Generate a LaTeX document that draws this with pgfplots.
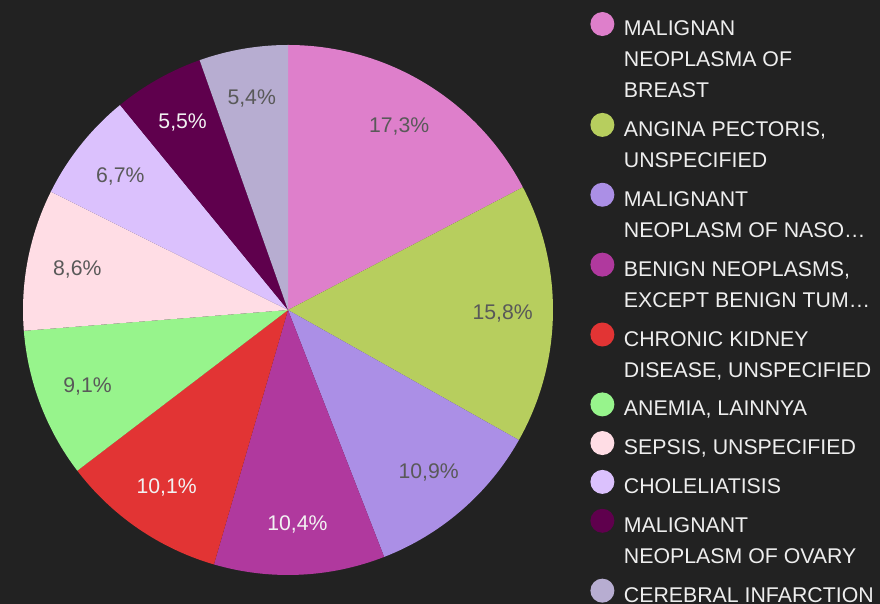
\documentclass[border=0pt]{standalone}
\usepackage{pgfplots}
\pgfplotsset{compat=1.18}
\usepackage{pgfplotstable}
\usepackage{fontspec}
\setmainfont{Liberation Sans}

\definecolor{bg}{HTML}{222222}
\definecolor{legtext}{HTML}{EEEEEE}
\definecolor{lbldark}{HTML}{595959}
\definecolor{lbllight}{HTML}{F2F2F2}
\definecolor{c1}{HTML}{DE7FCB}
\definecolor{c2}{HTML}{B7CE5E}
\definecolor{c3}{HTML}{AB8FE6}
\definecolor{c4}{HTML}{B0399E}
\definecolor{c5}{HTML}{E23434}
\definecolor{c6}{HTML}{97F48C}
\definecolor{c7}{HTML}{FFDDE5}
\definecolor{c8}{HTML}{DBC1FD}
\definecolor{c9}{HTML}{5F004D}
\definecolor{c10}{HTML}{B7ADD1}

\newcommand\lblfont{\fontsize{10.6}{13}\selectfont}
\newcommand\dotentry[2]{%
  \addlegendimage{legend image code/.code={%
    \fill[#1,draw=none,overlay] (6pt,-3.81pt) circle (6pt);
    \path[draw=none,fill=none] (0pt,0pt) rectangle (12pt,-7.62pt);}}
  \addlegendentry{#2}}

% share of each diagnosis, clockwise from the top
\pgfplotstableread{
share slice txt
17.3 c1  lbldark
15.8 c2  lbldark
10.9 c3  lbldark
10.4 c4  lbllight
10.1 c5  lbllight
9.1  c6  lbldark
8.6  c7  lbldark
6.7  c8  lbldark
5.5  c9  lbllight
5.4  c10 lbldark
}\piedata

\begin{document}
\begin{tikzpicture}
\fill[bg] (0,0) rectangle (440pt,302pt);
\useasboundingbox (0,0) rectangle (440pt,302pt);
\begin{axis}[
    at={(144pt,147pt)}, anchor=center,
    x=132.5pt, y=132.5pt,
    xmin=-1, xmax=1, ymin=-1, ymax=1,
    hide axis, clip=false,
    legend style={
        at={(1.0698,1.0547)}, anchor=north west,
        draw=none, fill=none, inner sep=0pt,
        row sep=6.3pt, column sep=2.8pt,
        font=\fontsize{10.65}{15.5}\selectfont, text=legtext,
        cells={anchor=north west, align=left, inner sep=0pt},
    },
]
\def\cum{0}
\pgfplotsforeachungrouped \i in {0,...,9}{%
  \pgfplotstablegetelem{\i}{share}\of\piedata \let\sv\pgfplotsretval
  \pgfplotstablegetelem{\i}{slice}\of\piedata \let\sc\pgfplotsretval
  \pgfplotstablegetelem{\i}{txt}\of\piedata \let\stc\pgfplotsretval
  \pgfmathsetmacro\angA{90-\cum*3.60721}
  \pgfmathsetmacro\angB{90-(\cum+\sv)*3.60721}
  \pgfmathsetmacro\angM{(\angA+\angB)/2}
  \pgfmathsetmacro\xa{cos(\angA)}
  \pgfmathsetmacro\ya{sin(\angA)}
  \pgfmathsetmacro\xm{0.81*cos(\angM)}
  \pgfmathsetmacro\ym{0.81*sin(\angM)}
  \edef\temp{%
    \noexpand\fill[\sc] (axis cs:0,0) -- (axis cs:\xa,\ya)
      arc[start angle=\angA, end angle=\angB, radius=132.5pt] -- cycle;
    \noexpand\node[text=\stc, font=\noexpand\lblfont] at (axis cs:\xm,\ym)
      {\noexpand\pgfmathprintnumber[fixed, fixed zerofill, precision=1, use comma, assume math mode=true]{\sv}\noexpand\%};}
  \temp
  \pgfmathsetmacro\cum{\cum+\sv}
}
\dotentry{c1}{MALIGNAN\\NEOPLASMA OF\\BREAST}
\dotentry{c2}{ANGINA PECTORIS,\\UNSPECIFIED}
\dotentry{c3}{MALIGNANT\\NEOPLASM OF NASO…}
\dotentry{c4}{BENIGN NEOPLASMS,\\EXCEPT BENIGN TUM…}
\dotentry{c5}{CHRONIC KIDNEY\\DISEASE, UNSPECIFIED}
\dotentry{c6}{ANEMIA, LAINNYA}
\dotentry{c7}{SEPSIS, UNSPECIFIED}
\dotentry{c8}{CHOLELIATISIS}
\dotentry{c9}{MALIGNANT\\NEOPLASM OF OVARY}
\dotentry{c10}{CEREBRAL INFARCTION}
\end{axis}
\end{tikzpicture}
\end{document}
